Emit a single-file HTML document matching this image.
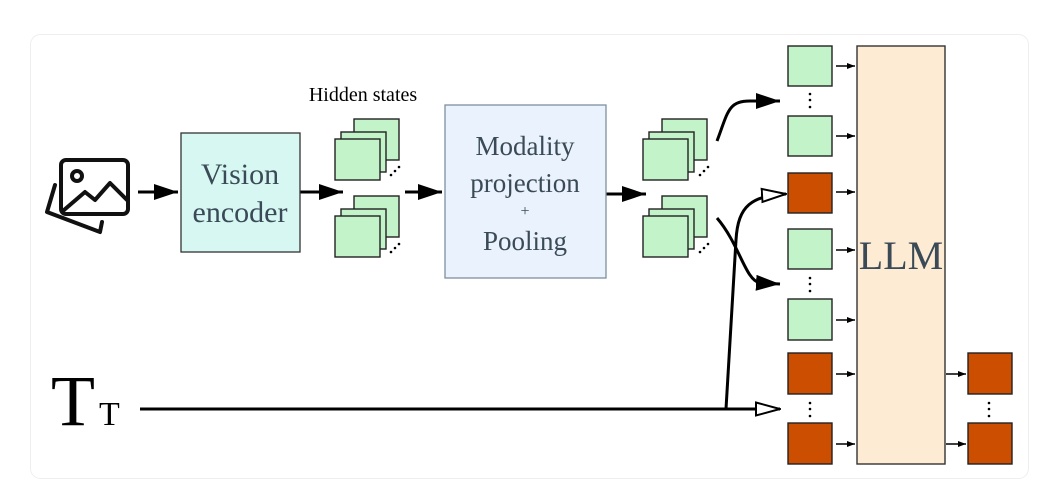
<!DOCTYPE html>
<html><head><style>
html,body{margin:0;padding:0;background:#fff;width:1055px;height:500px;overflow:hidden}
svg{display:block}
text{font-family:"Liberation Serif",serif}
</style></head><body>
<svg width="1055" height="500" viewBox="0 0 1055 500" xmlns="http://www.w3.org/2000/svg">
<defs>
<marker id="fa" viewBox="0 0 8 6" refX="8" refY="3" markerWidth="8" markerHeight="6" markerUnits="userSpaceOnUse" orient="auto"><path d="M0,0 L8,3 L0,6 z" fill="#000"/></marker>
<marker id="big" viewBox="0 0 24 16" refX="24" refY="8" markerWidth="24" markerHeight="16" markerUnits="userSpaceOnUse" orient="auto"><path d="M0,0 L24,8 L0,16 z" fill="#000"/></marker>
<marker id="open" viewBox="0 0 26 16" refX="25" refY="8" markerWidth="26" markerHeight="16" markerUnits="userSpaceOnUse" orient="auto"><path d="M1,1.5 L25,8 L1,14.5 z" fill="#fff" stroke="#000" stroke-width="2"/></marker>
</defs>
<rect x="30.5" y="34.5" width="998" height="444" rx="10" fill="#fff" stroke="#eee"/>
<g fill="none" stroke="#111" stroke-width="4" stroke-linecap="round" stroke-linejoin="round">
<rect x="61" y="160" width="67" height="54" rx="5"/>
<path d="M55,185 L47,212 L100,232 L102,222"/>
<path d="M64,210 L85,192 L95,200 L110,183 L127,200"/>
<circle cx="77" cy="176" r="5"/>
</g>
<text x="363" y="101" font-size="20" text-anchor="middle">Hidden states</text>
<g stroke="#000" stroke-width="3" fill="none">
<line x1="138" y1="192" x2="178" y2="192" marker-end="url(#big)"/>
<line x1="300" y1="192" x2="343" y2="192" marker-end="url(#big)"/>
<line x1="405" y1="192" x2="442" y2="192" marker-end="url(#big)"/>
<line x1="606" y1="194" x2="646" y2="194" marker-end="url(#big)"/>
<path d="M717,141 C728,112 728,101 750,101 L780,101" marker-end="url(#big)"/>
<path d="M717,218 C740,245 745,280 760,283 L780,284" marker-end="url(#big)"/>
<line x1="140" y1="409" x2="780" y2="409" marker-end="url(#open)"/>
<path d="M726,409 L736,240 C738,205 752,196 786,194" marker-end="url(#open)"/>
</g>
<rect x="181" y="133" width="119" height="119" fill="#d6f7f2" stroke="#333" stroke-width="1.3"/>
<text x="240" y="184" font-size="30" fill="#3a4a56" text-anchor="middle">Vision</text>
<text x="240" y="222" font-size="30" fill="#3a4a56" text-anchor="middle">encoder</text>
<rect x="445" y="105" width="161" height="173" fill="#e9f2fd" stroke="#8090a0" stroke-width="1.3"/>
<text x="525" y="155" font-size="27" fill="#3a4a56" text-anchor="middle">Modality</text>
<text x="525" y="192" font-size="27" fill="#3a4a56" text-anchor="middle">projection</text>
<text x="525" y="216" font-size="16" fill="#3a4a56" text-anchor="middle">+</text>
<text x="525" y="250" font-size="27" fill="#3a4a56" text-anchor="middle">Pooling</text>
<g fill="#c3f4c9" stroke="#222" stroke-width="1.4">
<rect x="354" y="119" width="45" height="41"/><rect x="341" y="132" width="45" height="40"/><rect x="335" y="139" width="45" height="41"/>
<rect x="354" y="196" width="45" height="41"/><rect x="341" y="209" width="45" height="40"/><rect x="335" y="216" width="45" height="41"/>
<rect x="662" y="119" width="45" height="41"/><rect x="649" y="132" width="45" height="40"/><rect x="643" y="139" width="45" height="41"/>
<rect x="662" y="196" width="45" height="41"/><rect x="649" y="209" width="45" height="40"/><rect x="643" y="216" width="45" height="41"/>
</g>
<g fill="#000">
<circle cx="391" cy="175" r="1.3"/><circle cx="395" cy="171" r="1.3"/><circle cx="399" cy="167" r="1.3"/>
<circle cx="391" cy="252" r="1.3"/><circle cx="395" cy="248" r="1.3"/><circle cx="399" cy="244" r="1.3"/>
<circle cx="700" cy="175" r="1.3"/><circle cx="704" cy="171" r="1.3"/><circle cx="708" cy="167" r="1.3"/>
<circle cx="700" cy="252" r="1.3"/><circle cx="704" cy="248" r="1.3"/><circle cx="708" cy="244" r="1.3"/>
<circle cx="810" cy="94" r="1.3"/><circle cx="810" cy="100" r="1.3"/><circle cx="810" cy="107" r="1.3"/>
<circle cx="810" cy="278" r="1.3"/><circle cx="810" cy="284" r="1.3"/><circle cx="810" cy="291" r="1.3"/>
<circle cx="810" cy="403" r="1.3"/><circle cx="810" cy="409" r="1.3"/><circle cx="810" cy="416" r="1.3"/>
<circle cx="989" cy="403" r="1.3"/><circle cx="989" cy="409" r="1.3"/><circle cx="989" cy="416" r="1.3"/>
</g>
<rect x="857" y="46" width="88" height="418" fill="#fdebd3" stroke="#333" stroke-width="1.4"/>
<text x="901" y="269" font-size="40" fill="#3a4a56" text-anchor="middle">LLM</text>
<g stroke="#222" stroke-width="1.4">
<rect x="788" y="46" width="44" height="40" fill="#c3f4c9"/>
<rect x="788" y="116" width="44" height="40" fill="#c3f4c9"/>
<rect x="788" y="173" width="44" height="40" fill="#cc4e00"/>
<rect x="788" y="229" width="44" height="40" fill="#c3f4c9"/>
<rect x="788" y="299" width="44" height="41" fill="#c3f4c9"/>
<rect x="788" y="353" width="44" height="41" fill="#cc4e00"/>
<rect x="788" y="423" width="44" height="41" fill="#cc4e00"/>
<rect x="968" y="353" width="44" height="41" fill="#cc4e00"/>
<rect x="968" y="423" width="44" height="41" fill="#cc4e00"/>
</g>
<g stroke="#000" stroke-width="1.5">
<line x1="836" y1="66" x2="855" y2="66" marker-end="url(#fa)"/>
<line x1="836" y1="136" x2="855" y2="136" marker-end="url(#fa)"/>
<line x1="836" y1="192" x2="855" y2="192" marker-end="url(#fa)"/>
<line x1="836" y1="250" x2="855" y2="250" marker-end="url(#fa)"/>
<line x1="836" y1="320" x2="855" y2="320" marker-end="url(#fa)"/>
<line x1="836" y1="374" x2="855" y2="374" marker-end="url(#fa)"/>
<line x1="836" y1="444" x2="855" y2="444" marker-end="url(#fa)"/>
<line x1="946" y1="374" x2="966" y2="374" marker-end="url(#fa)"/>
<line x1="946" y1="444" x2="966" y2="444" marker-end="url(#fa)"/>
</g>
<text x="51" y="425" font-size="72" fill="#000">T</text>
<text x="99" y="425" font-size="34" fill="#000">T</text>
</svg>
</body></html>
